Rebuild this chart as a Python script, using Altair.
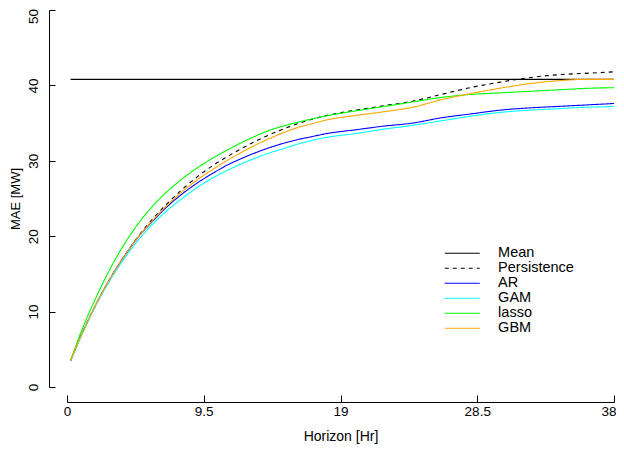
import altair as alt
import pandas as pd

hours = [0.25, 1, 2, 3, 4, 5, 6, 7, 8, 9, 10, 11, 12, 13, 14, 15, 16, 17, 18,
         20, 22, 24, 26, 28, 30, 32, 34, 36, 38]

mean_val = 40.8
persistence = [3.5, 6.9, 10.9, 14.4, 17.4, 20.1, 22.4, 24.4, 26.2, 27.8, 29.2, 30.4, 31.5, 32.5, 33.4, 34.2, 34.9, 35.5, 36.0,
               36.7, 37.3, 37.9, 38.8, 39.7, 40.4, 41.0, 41.4, 41.6, 41.8]
ar = [3.5, 6.9, 10.9, 14.4, 17.4, 20.0, 22.1, 24.0, 25.6, 27.0, 28.2, 29.3, 30.2, 31.0, 31.7, 32.3, 32.8, 33.2, 33.6,
      34.1, 34.6, 35.0, 35.7, 36.2, 36.7, 37.0, 37.2, 37.4, 37.6]
gam = [3.5, 6.8, 10.8, 14.2, 17.1, 19.6, 21.7, 23.5, 25.0, 26.4, 27.6, 28.6, 29.5, 30.3, 31.0, 31.6, 32.2, 32.7, 33.1,
       33.6, 34.2, 34.7, 35.3, 35.9, 36.4, 36.7, 36.9, 37.1, 37.2]
lasso = [3.5, 7.4, 11.8, 15.7, 19.0, 21.8, 24.1, 26.0, 27.6, 29.0, 30.2, 31.3, 32.3, 33.2, 34.0, 34.6, 35.1, 35.55, 35.95,
         36.6, 37.2, 37.8, 38.4, 38.8, 39.0, 39.2, 39.4, 39.6, 39.7]
gbm = [3.5, 6.9, 10.9, 14.4, 17.4, 20.0, 22.2, 24.2, 25.9, 27.4, 28.7, 29.9, 31.0, 32.0, 32.9, 33.7, 34.4, 34.9, 35.4,
       36.0, 36.5, 37.1, 38.1, 38.9, 39.6, 40.2, 40.6, 40.8, 40.8]

names = ["Mean", "Persistence", "AR", "GAM", "lasso", "GBM"]
colors = ["#000000", "#000000", "#0000FF", "#00FFFF", "#00FF00", "#FFA500"]
dashes = [[1, 0], [4, 4], [1, 0], [1, 0], [1, 0], [1, 0]]

x_ticks = [0, 9.5, 19, 28.5, 38]
y_ticks = [0, 10, 20, 30, 40, 50]

rows = []
for h in [hours[0], hours[-1]]:
    rows.append({"h": h, "mae": mean_val, "series": "Mean"})
for name, vals in [("Persistence", persistence), ("AR", ar), ("GAM", gam),
                   ("lasso", lasso), ("GBM", gbm)]:
    for h, v in zip(hours, vals):
        rows.append({"h": h, "mae": v, "series": name})
df = pd.DataFrame(rows)

FONT = "Liberation Sans"
xs = alt.Scale(domain=[0, 38], nice=False, zero=False)
ys = alt.Scale(domain=[0, 50], nice=False, zero=False)

x_last = f"datum.value == {x_ticks[-1]}"
y_last = f"datum.value == {y_ticks[-1]}"

lines = alt.Chart(df).mark_line(strokeWidth=1.1, interpolate="monotone").encode(
    x=alt.X("h:Q", scale=xs, axis=alt.Axis(
        orient="bottom", values=x_ticks, labelExpr="toString(datum.value)", offset=15,
        ticks=False, tickSize=0,
        domain=True, domainColor="#000000", domainWidth=1, grid=False,
        labelPadding=2, labelFont=FONT, labelFontSize=13.5, labelColor="#000000",
        labelFlush=False,
        labelAlign={"condition": {"test": x_last, "value": "right"}, "value": "center"},
        labelOffset={"condition": {"test": x_last, "value": 2}, "value": 0},
        title="Horizon [Hr]", titleFont=FONT, titleFontSize=14, titleFontWeight="normal",
        titleColor="#000000", titlePadding=12)),
    y=alt.Y("mae:Q", scale=ys, axis=alt.Axis(
        orient="left", values=y_ticks, labelExpr="toString(datum.value)", offset=18,
        ticks=False, tickSize=0,
        domain=True, domainColor="#000000", domainWidth=1, grid=False,
        labelAngle=270, labelPadding=9, labelFont=FONT, labelFontSize=13.5, labelColor="#000000",
        labelFlush=False,
        labelAlign={"condition": {"test": y_last, "value": "right"}, "value": "center"},
        labelOffset={"condition": {"test": y_last, "value": -1.5}, "value": 0},
        title="MAE [MW]", titleFont=FONT, titleFontSize=13, titleFontWeight="normal",
        titleColor="#000000", titlePadding=4)),
    color=alt.Color("series:N", scale=alt.Scale(domain=names, range=colors),
                    sort=names, legend=alt.Legend(title=None)),
    strokeDash=alt.StrokeDash("series:N", scale=alt.Scale(domain=names, range=dashes),
                              sort=names, legend=alt.Legend(title=None)),
)

tick_layer = alt.Chart(df).mark_point(opacity=0).encode(
    x=alt.X("h:Q", scale=xs, axis=alt.Axis(
        orient="bottom", values=x_ticks, offset=8, tickSize=7, tickColor="#000000",
        domain=False, labels=False, grid=False, title=None)),
    y=alt.Y("mae:Q", scale=ys, axis=alt.Axis(
        orient="left", values=y_ticks, offset=12, tickSize=6, tickColor="#000000",
        domain=False, labels=False, grid=False, title=None)),
)

chart = alt.layer(tick_layer, lines).resolve_axis(
    x="independent", y="independent"
).properties(
    width=547, height=377,
    autosize=alt.AutoSizeParams(type="none"),
    padding={"left": 59, "top": 2, "right": 2, "bottom": 58},
).configure_view(stroke=None).configure_legend(
    orient="none", legendX=388, legendY=236, padding=0,
    symbolType="M-3,0H3", symbolSize=136, symbolStrokeWidth=1.1,
    labelFont=FONT, labelFontSize=14.5, labelColor="#000000", labelOffset=28.6,
    rowPadding=0,
)

chart.save("out.html", embed_options={"renderer": "svg", "actions": False})
